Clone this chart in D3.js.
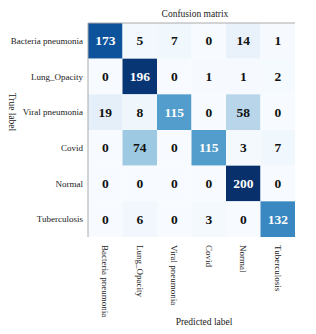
<!DOCTYPE html>
<html><head><meta charset="utf-8">
<script src="https://cdn.jsdelivr.net/npm/d3@7"></script>
<style>body{margin:0;background:#fff;}svg{display:block;}</style>
</head><body>
<script>
const labels = ["Bacteria pneumonia","Lung_Opacity","Viral pneumonia","Covid","Normal","Tuberculosis"];
const matrix = [
  [173,5,7,0,14,1],
  [0,196,0,1,1,2],
  [19,8,115,0,58,0],
  [0,74,0,115,3,7],
  [0,0,0,0,200,0],
  [0,6,0,3,0,132]
];
const W=316,H=334;
const m={left:88,top:23,right:21,bottom:97};
const svg=d3.select("body").append("svg").attr("width",W).attr("height",H);
const x=d3.scaleBand().domain(d3.range(6)).range([m.left,W-m.right]);
const y=d3.scaleBand().domain(d3.range(6)).range([m.top,H-m.bottom]);
const color=d3.scaleSequential(d3.interpolateBlues).domain([0,200]);
const cells=[];
matrix.forEach((r,i)=>r.forEach((v,j)=>cells.push({i,j,v})));
svg.selectAll("rect.c").data(cells).join("rect").attr("class","c")
  .attr("x",d=>x(d.j)).attr("y",d=>y(d.i)).attr("width",x.bandwidth()).attr("height",y.bandwidth())
  .attr("fill",d=>color(d.v));
svg.selectAll("text.v").data(cells).join("text").attr("class","v")
  .attr("x",d=>x(d.j)+x.bandwidth()/2).attr("y",d=>y(d.i)+y.bandwidth()/2)
  .attr("text-anchor","middle").attr("dominant-baseline","central")
  .attr("font-family","Liberation Serif, serif").attr("font-weight","bold").attr("font-size",13.5)
  .attr("fill",d=>d.v>100?"#fff":"#111").text(d=>d.v);
// frame lines
svg.append("line").attr("x1",m.left).attr("x2",W-m.right).attr("y1",m.top).attr("y2",m.top).attr("stroke","#aaa").attr("stroke-width",1);
svg.append("line").attr("x1",m.left).attr("x2",m.left).attr("y1",m.top).attr("y2",H-m.bottom).attr("stroke","#aaa").attr("stroke-width",1);
// y labels
svg.selectAll("text.yl").data(labels).join("text").attr("class","yl")
  .attr("x",m.left-5).attr("y",(d,i)=>y(i)+y.bandwidth()/2).attr("text-anchor","end").attr("dominant-baseline","central")
  .attr("font-family","Liberation Serif, serif").attr("font-size",9).attr("fill","#222").text(d=>d);
// x labels
svg.selectAll("text.xl").data(labels).join("text").attr("class","xl")
  .attr("transform",(d,i)=>`translate(${x(i)+x.bandwidth()/2},${H-m.bottom+8}) rotate(90)`)
  .attr("text-anchor","start").attr("dominant-baseline","central")
  .attr("font-family","Liberation Serif, serif").attr("font-size",9).attr("fill","#222").text(d=>d);
svg.append("text").attr("x",195).attr("y",14).attr("text-anchor","middle").attr("dominant-baseline","central")
  .attr("font-family","Liberation Serif, serif").attr("font-size",9.5).attr("fill","#222").text("Confusion matrix");
svg.append("text").attr("x",204).attr("y",322).attr("text-anchor","middle").attr("dominant-baseline","central")
  .attr("font-family","Liberation Serif, serif").attr("font-size",9.5).attr("fill","#222").text("Predicted label");
svg.append("text").attr("transform","translate(12,112) rotate(90)").attr("text-anchor","middle").attr("dominant-baseline","central")
  .attr("font-family","Liberation Serif, serif").attr("font-size",9.5).attr("fill","#222").text("True label");
</script>
</body></html>
